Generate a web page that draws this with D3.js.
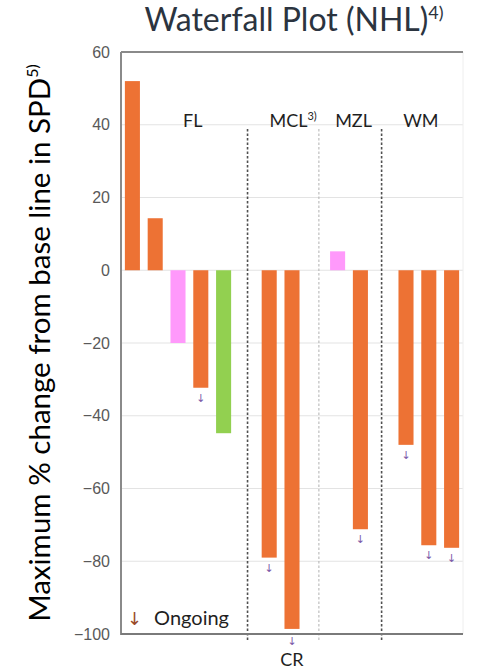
<!DOCTYPE html>
<html lang="en">
<head>
<meta charset="utf-8">
<title>Waterfall Plot (NHL)</title>
<style>
  body { margin: 0; background: #fff; }
  svg text { font-family: Lato, "Noto Sans", sans-serif; }
  .tick text { font-family: "Liberation Sans", Arial, sans-serif; }
</style>
</head>
<body>
<script src="https://cdn.jsdelivr.net/npm/d3@7"></script>
<script>

// patients, in slot order along the x axis
var slots  = [0, 1, 2, 3, 4, 6, 7, 9, 10, 12, 13, 14];
var values = [52, 14.3, -20, -32.3, -44.8, -79, -98.6, 5.2, -71.2, -48, -75.6, -76.3];
var kinds  = ["o", "o", "p", "o", "g", "o", "o", "p", "o", "o", "o", "o"];
var ongoing = [0, 0, 0, 1, 0, 1, 1, 0, 1, 1, 1, 1];

var groups   = ["FL", "MCL", "MZL", "WM"];
var groupSup = ["", "3)", "", ""];
var groupPos = [3.15, 7.55, 10.2, 13.15];

var dividers = [5.55, 8.68, 11.43];
var yTicks = [60, 40, 20, 0, -20, -40, -60, -80, -100];

var width = 488, height = 670;
var pLeft = 121, pRight = 463, pTop = 52, pBottom = 634;

var colors = { o: "#ED7234", p: "#FF99FB", g: "#92D050" };

var svg = d3.select("body").append("svg")
    .attr("width", width)
    .attr("height", height);

var x = d3.scaleLinear().domain([0, 15]).range([pLeft, pRight]);
var y = d3.scaleLinear().domain([-100, 60]).range([pBottom, pTop]);

// grid
svg.append("g").selectAll("line")
    .data(yTicks.slice(1, -1))
  .enter().append("line")
    .attr("x1", pLeft).attr("x2", pRight)
    .attr("y1", function(d) { return y(d); })
    .attr("y2", function(d) { return y(d); })
    .attr("stroke", "#e3e3e3")
    .attr("stroke-width", 1);

// right frame edge
svg.append("line")
    .attr("x1", pRight).attr("x2", pRight)
    .attr("y1", pTop).attr("y2", pBottom)
    .attr("stroke", "#eeeeee");

// group dividers
svg.append("g").selectAll("line")
    .data(dividers)
  .enter().append("line")
    .attr("x1", function(d) { return x(d); })
    .attr("x2", function(d) { return x(d); })
    .attr("y1", 129).attr("y2", pBottom + 7)
    .attr("stroke", function(d, i) { return i == 1 ? "#b0b0b0" : "#505050"; })
    .attr("stroke-width", function(d, i) { return i == 1 ? 1 : 1.6; })
    .attr("stroke-dasharray", "2.5,2");

// bars
svg.append("g").selectAll("rect")
    .data(values)
  .enter().append("rect")
    .attr("x", function(d, i) { return x(slots[i] + 0.17); })
    .attr("width", x(0.66) - x(0))
    .attr("y", function(d) { return y(Math.max(0, d)); })
    .attr("height", function(d) { return Math.abs(y(d) - y(0)); })
    .attr("fill", function(d, i) { return colors[kinds[i]]; });

// ongoing arrows
svg.append("g").selectAll("text")
    .data(values.filter(function(d, i) { return ongoing[i]; }))
  .enter().append("text")
    .attr("x", function(d) { return x(slots[values.indexOf(d)] + 0.5); })
    .attr("y", function(d) { return y(d) + (d < -95 ? 16 : 14); })
    .attr("text-anchor", "middle")
    .style("font-family", "DejaVu Sans")
    .style("font-size", "11px")
    .attr("fill", "#7c5aa8")
    .text("\u2193");

// axes
var yAxis = d3.axisLeft(y).tickValues(yTicks).tickSize(0).tickPadding(11);
var gy = svg.append("g")
    .attr("transform", "translate(" + pLeft + ",0)")
    .call(yAxis);
gy.select(".domain").remove();
gy.selectAll("text").style("font-size", "16px").attr("fill", "#595959");

svg.append("line")
    .attr("x1", pLeft).attr("x2", pLeft).attr("y1", pTop).attr("y2", pBottom + 1)
    .attr("stroke", "#8a8a8a").attr("stroke-width", 2);
svg.append("line")
    .attr("x1", pLeft).attr("x2", pRight).attr("y1", pBottom).attr("y2", pBottom)
    .attr("stroke", "#7a7a7a").attr("stroke-width", 2);
svg.append("line")
    .attr("x1", pLeft).attr("x2", pRight).attr("y1", pTop).attr("y2", pTop)
    .attr("stroke", "#8a8a8a").attr("stroke-width", 2);

// group labels
var gl = svg.append("g").selectAll("text")
    .data(groups)
  .enter().append("text")
    .attr("x", function(d, i) { return x(groupPos[i]); })
    .attr("y", 127)
    .attr("text-anchor", "middle")
    .style("font-size", "18px")
    .attr("fill", "#1f1f1f");
gl.append("tspan").text(function(d) { return d; });
gl.append("tspan")
    .attr("dy", -7)
    .style("font-size", "11px")
    .text(function(d, i) { return groupSup[i]; });

// legend
var lg = svg.append("text")
    .attr("x", 127).attr("y", 625)
    .style("font-size", "20px")
    .attr("fill", "#1f1f1f");
lg.append("tspan").attr("fill", "#9a4a2a").style("font-family", "DejaVu Sans").style("font-size", "18px").text("\u2193");
lg.append("tspan").attr("dx", 12).text("Ongoing");

svg.append("text")
    .attr("x", x(slots[6] + 0.5)).attr("y", 666)
    .attr("text-anchor", "middle")
    .style("font-size", "18px")
    .attr("fill", "#1f1f1f")
    .text("CR");

// title
var t = svg.append("text")
    .attr("x", 294).attr("y", 31)
    .attr("text-anchor", "middle")
    .style("font-size", "32px")
    .attr("fill", "#2b3440");
t.append("tspan").text("Waterfall Plot (NHL)");
t.append("tspan").attr("dy", -12).style("font-size", "18px").text("4)");

// y title
var yt = svg.append("text")
    .attr("transform", "translate(50," + 343 + ") rotate(-90)")
    .attr("text-anchor", "middle")
    .style("font-size", "29.5px")
    .attr("fill", "#000");
yt.append("tspan").text("Maximum % change from base line in SPD");
yt.append("tspan").attr("dy", -12).style("font-size", "16px").text("5)");

</script>
</body>
</html>
